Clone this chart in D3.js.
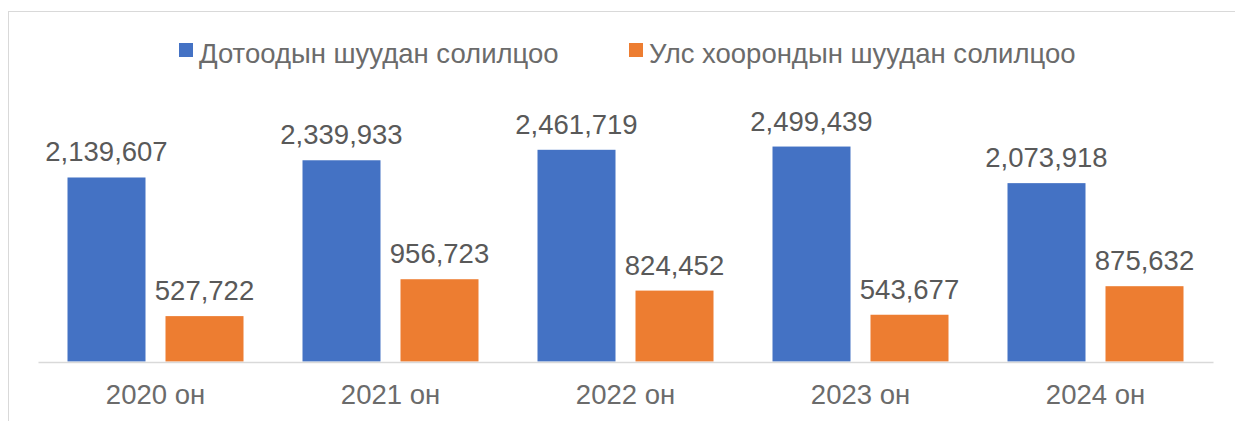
<!DOCTYPE html>
<html>
<head>
<meta charset="utf-8">
<script src="https://cdn.jsdelivr.net/npm/d3@7"></script>
<style>
  html, body { margin: 0; padding: 0; background: #ffffff; }
  svg { display: block; font-family: "Liberation Sans", Arial, sans-serif; }
</style>
</head>
<body>
<svg id="chart" width="1235" height="421"></svg>
<script>
// Mail exchange volumes by year
const years = ["2020 он", "2021 он", "2022 он", "2023 он", "2024 он"];
const seriesNames = ["Дотоодын шуудан солилцоо", "Улс хоорондын шуудан солилцоо"];
const domestic = [2139607, 2339933, 2461719, 2499439, 2073918];
const international = [527722, 956723, 824452, 543677, 875632];
const seriesColors = ["#4472c4", "#ed7d31"];

const svg = d3.select("#chart");
const W = 1235, H = 421;

// chart frame (open on the right and bottom edges)
svg.append("rect")
  .attr("x", 8.5).attr("y", 11.5)
  .attr("width", W + 20).attr("height", H + 20)
  .attr("fill", "#ffffff")
  .attr("stroke", "#d9d9d9").attr("stroke-width", 1);

const plot = { left: 38, right: 1213, base: 361.5 };

const x0 = d3.scaleBand().domain(years).range([plot.left, plot.right]).paddingInner(0).paddingOuter(0);
const groupW = 176;
const x1 = d3.scaleBand().domain(seriesNames)
  .range([(x0.bandwidth() - groupW) / 2, (x0.bandwidth() + groupW) / 2])
  .paddingInner(20 / 98).paddingOuter(0);
const y = d3.scaleLinear().domain([0, 3000000]).range([plot.base, plot.base - 258]);

const rows = years.map((yr, i) => ({
  year: yr,
  values: [domestic[i], international[i]]
}));

const fmt = d3.format(",");

const groups = svg.append("g").selectAll("g")
  .data(rows).join("g")
  .attr("transform", d => `translate(${x0(d.year)},0)`);

groups.selectAll("rect")
  .data(d => d.values.map((v, k) => ({ name: seriesNames[k], value: v, k })))
  .join("rect")
  .attr("x", d => x1(d.name))
  .attr("width", x1.bandwidth())
  .attr("y", d => y(d.value))
  .attr("height", d => y(0) - y(d.value))
  .attr("fill", d => seriesColors[d.k]);

groups.selectAll("text.value")
  .data(d => d.values.map((v, k) => ({ name: seriesNames[k], value: v, k })))
  .join("text")
  .attr("class", "value")
  .attr("x", d => x1(d.name) + x1.bandwidth() / 2)
  .attr("y", d => y(d.value) - 16)
  .attr("text-anchor", "middle")
  .attr("font-size", 27.5)
  .attr("fill", "#595959")
  .text(d => fmt(d.value));

// category axis
const xAxis = svg.append("g")
  .attr("transform", `translate(0,${plot.base + 0.5})`)
  .call(d3.axisBottom(x0).tickSize(0).tickPadding(0));
xAxis.select(".domain").attr("stroke", "#d9d9d9").attr("stroke-width", 1.5);
xAxis.selectAll(".tick text")
  .attr("dy", 0)
  .attr("y", 42)
  .attr("font-size", 27.5)
  .attr("font-family", "Liberation Sans, Arial, sans-serif")
  .attr("fill", "#6b6b6b");

// legend
const legendX = [179, 629];
const legend = svg.append("g").selectAll("g")
  .data(seriesNames).join("g")
  .attr("transform", (d, i) => `translate(${legendX[i]},43)`);
legend.append("rect")
  .attr("width", 14).attr("height", 14)
  .attr("fill", (d, i) => seriesColors[i]);
legend.append("text")
  .attr("x", 20).attr("y", 20)
  .attr("font-size", 27.5)
  .attr("fill", "#6b6b6b")
  .text(d => d);
</script>
</body>
</html>
